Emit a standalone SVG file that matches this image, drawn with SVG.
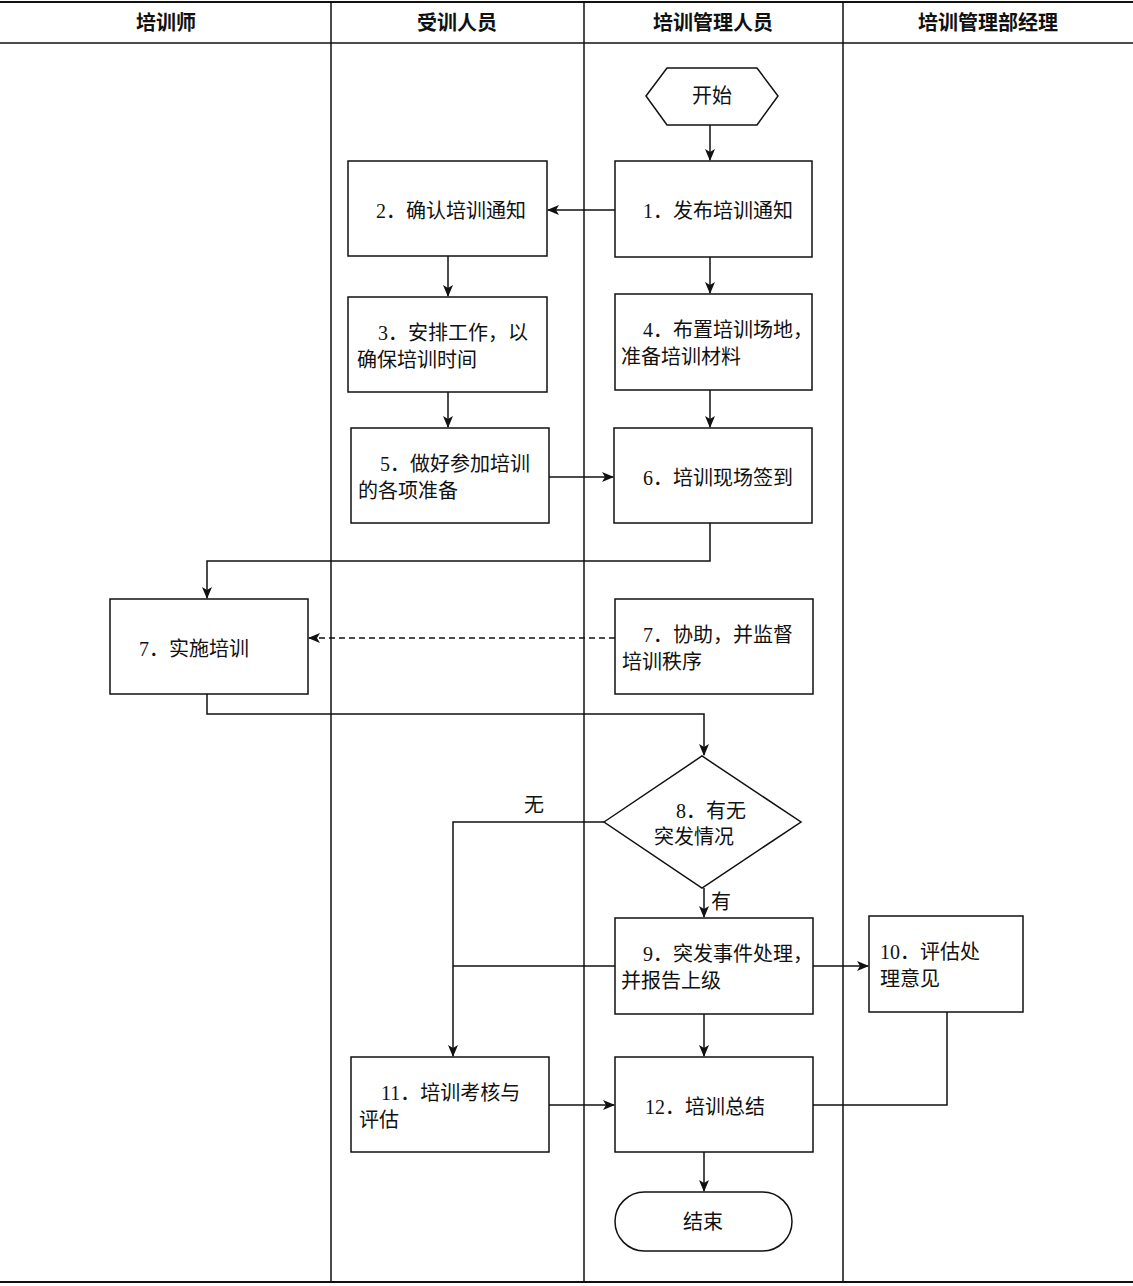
<svg xmlns="http://www.w3.org/2000/svg" width="1133" height="1286" viewBox="0 0 1133 1286">
<style>
text{font-family:"Liberation Serif","Noto Sans CJK SC",serif;font-size:20px;fill:#111}
.h{font-family:"Liberation Sans","Noto Sans CJK SC",sans-serif;font-weight:bold;text-anchor:middle}
.c{text-anchor:middle}
.b{fill:#fff;stroke:#111;stroke-width:1.5}
.l{fill:none;stroke:#111;stroke-width:1.5}
</style>
<defs><marker id="a" markerWidth="12" markerHeight="10" refX="11" refY="5" orient="auto" markerUnits="userSpaceOnUse"><path d="M0,0 L12,5 L0,10 L3,5 Z" fill="#111"/></marker></defs>
<rect width="1133" height="1286" fill="#fff"/>
<g id="lanes" class="l">
<line x1="0" y1="2" x2="1133" y2="2" stroke-width="2"/>
<line x1="0" y1="43" x2="1133" y2="43"/>
<line x1="0" y1="1282" x2="1133" y2="1282" stroke-width="2"/>
<line x1="331" y1="2" x2="331" y2="1282"/>
<line x1="584" y1="2" x2="584" y2="1282"/>
<line x1="843" y1="2" x2="843" y2="1282"/>
</g>
<text class="h" x="166" y="30">培训师</text>
<text class="h" x="457" y="30">受训人员</text>
<text class="h" x="713" y="30">培训管理人员</text>
<text class="h" x="988" y="30">培训管理部经理</text>
<g id="start"><polygon class="b" points="646,96 667,68 757,68 778,96 757,125 667,125"/><text class="c" x="712" y="103">开始</text></g>
<g id="n1"><rect class="b" x="615" y="161" width="197" height="96"/><text x="643" y="218">1．发布培训通知</text></g>
<g id="n2"><rect class="b" x="348" y="161" width="199" height="95"/><text x="376" y="218">2．确认培训通知</text></g>
<g id="n3"><rect class="b" x="348" y="297" width="199" height="95"/><text x="378" y="340">3．安排工作，以</text><text x="357" y="367">确保培训时间</text></g>
<g id="n4"><rect class="b" x="615" y="294" width="197" height="96"/><text x="643" y="337">4．布置培训场地，</text><text x="621" y="364">准备培训材料</text></g>
<g id="n5"><rect class="b" x="351" y="428" width="198" height="95"/><text x="380" y="471">5．做好参加培训</text><text x="358" y="498">的各项准备</text></g>
<g id="n6"><rect class="b" x="614" y="428" width="198" height="95"/><text x="643" y="485">6．培训现场签到</text></g>
<g id="n7"><rect class="b" x="110" y="599" width="198" height="95"/><text x="139" y="656">7．实施培训</text></g>
<g id="n7b"><rect class="b" x="615" y="599" width="198" height="95"/><text x="643" y="642">7．协助，并监督</text><text x="622" y="669">培训秩序</text></g>
<g id="n8"><polygon class="b" points="604,822 702,756 801,822 702,888"/><text x="676" y="818">8．有无</text><text x="654" y="844">突发情况</text></g>
<g id="n9"><rect class="b" x="615" y="918" width="198" height="96"/><text x="643" y="961">9．突发事件处理，</text><text x="621" y="988">并报告上级</text></g>
<g id="n10"><rect class="b" x="869" y="916" width="154" height="96"/><text x="880" y="959">10．评估处</text><text x="880" y="986">理意见</text></g>
<g id="n11"><rect class="b" x="351" y="1057" width="198" height="95"/><text x="381" y="1100">11．培训考核与</text><text x="359" y="1127">评估</text></g>
<g id="n12"><rect class="b" x="615" y="1057" width="198" height="95"/><text x="645" y="1114">12．培训总结</text></g>
<g id="end"><rect class="b" x="615" y="1192" width="177" height="59" rx="29.5"/><text class="c" x="703" y="1229">结束</text></g>
<g id="connectors" class="l">
<line x1="710" y1="125" x2="710" y2="160" marker-end="url(#a)"/>
<line x1="615" y1="210" x2="548" y2="210" marker-end="url(#a)"/>
<line x1="448" y1="256" x2="448" y2="296" marker-end="url(#a)"/>
<line x1="710" y1="257" x2="710" y2="293" marker-end="url(#a)"/>
<line x1="448" y1="392" x2="448" y2="427" marker-end="url(#a)"/>
<line x1="710" y1="390" x2="710" y2="427" marker-end="url(#a)"/>
<line x1="549" y1="477" x2="613" y2="477" marker-end="url(#a)"/>
<polyline points="710,523 710,561 207,561 207,598" marker-end="url(#a)"/>
<line x1="615" y1="638" x2="309" y2="638" stroke-dasharray="6,4" marker-end="url(#a)"/>
<polyline points="207,694 207,714 704,714 704,755" marker-end="url(#a)"/>
<polyline points="604,822 453,822 453,1056" marker-end="url(#a)"/>
<line x1="704" y1="888" x2="704" y2="917" marker-end="url(#a)"/>
<line x1="615" y1="966" x2="453" y2="966"/>
<line x1="813" y1="966" x2="868" y2="966" marker-end="url(#a)"/>
<line x1="704" y1="1014" x2="704" y2="1056" marker-end="url(#a)"/>
<line x1="549" y1="1105" x2="614" y2="1105" marker-end="url(#a)"/>
<polyline points="947,1012 947,1105 813,1105"/>
<line x1="704" y1="1152" x2="704" y2="1191" marker-end="url(#a)"/>
</g>
<text x="524" y="812">无</text>
<text x="711" y="909">有</text>
</svg>
